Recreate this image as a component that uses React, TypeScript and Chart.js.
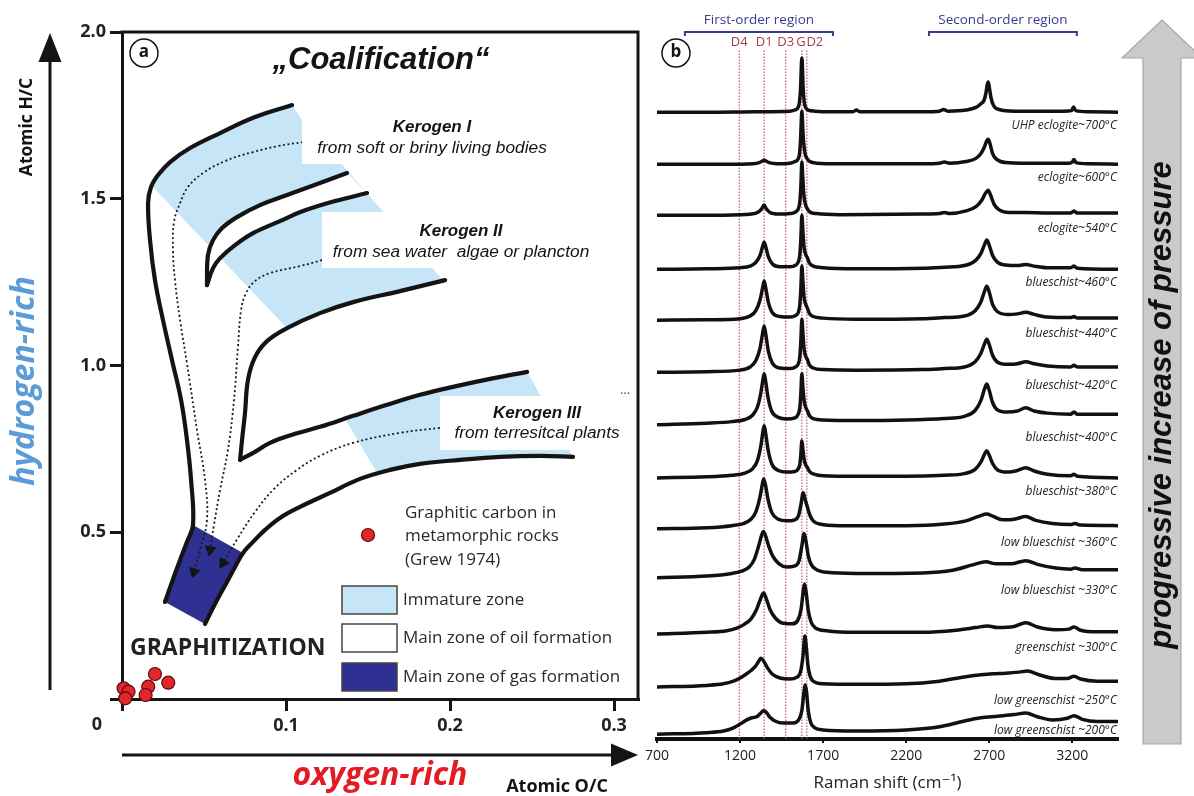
import React, { useEffect, useRef } from 'react';
import { Chart, registerables } from 'chart.js';

Chart.register(...registerables);

// ================= Panel (a): van Krevelen diagram =================
const X_TICKS_A = [0, 0.1, 0.2, 0.3];
const Y_TICKS_A = [0, 0.5, 1.0, 1.5, 2.0];

// outer evolution path of Kerogen I (upper-left boundary) down to graphitization
const OUTER_LEFT = [
  [0.1037, 1.781], [0.0811, 1.745], [0.0598, 1.697], [0.0415, 1.652], [0.0293, 1.61],
  [0.022, 1.571], [0.0177, 1.535], [0.0159, 1.487], [0.0171, 1.376], [0.0201, 1.256],
  [0.025, 1.136], [0.0305, 1.016], [0.036, 0.897], [0.0396, 0.777], [0.0421, 0.657],
  [0.0433, 0.522], [0.0396, 0.471], [0.0354, 0.417], [0.0305, 0.351], [0.0262, 0.291],
];
// outer evolution path of Kerogen III (lower-right boundary)
const OUTER_RIGHT = [
  [0.275, 0.726], [0.2549, 0.729], [0.2305, 0.726], [0.2061, 0.717], [0.1817, 0.705],
  [0.1634, 0.687], [0.1451, 0.66], [0.1268, 0.618], [0.1085, 0.576], [0.0963, 0.543],
  [0.0872, 0.507], [0.0799, 0.471], [0.0738, 0.438], [0.0689, 0.396], [0.064, 0.351],
  [0.0573, 0.291], [0.0506, 0.225],
];
const K1_LOWER = [
  [0.1372, 1.577], [0.1207, 1.547], [0.1006, 1.511], [0.0841, 1.481], [0.0701, 1.445],
  [0.061, 1.412], [0.0555, 1.376], [0.0524, 1.331], [0.0518, 1.241],
];
const K2_UPPER = [
  [0.0518, 1.241], [0.0555, 1.292], [0.0598, 1.322], [0.0689, 1.361], [0.0799, 1.397],
  [0.0963, 1.433], [0.1104, 1.463], [0.1299, 1.493], [0.1494, 1.517],
];
const K2_LOWER = [
  [0.197, 1.256], [0.1695, 1.223], [0.1409, 1.19], [0.1207, 1.157], [0.1006, 1.112],
  [0.0884, 1.073], [0.0811, 1.025], [0.0768, 0.957], [0.075, 0.858], [0.0732, 0.777],
  [0.072, 0.717],
];
const K3_UPPER = [
  [0.072, 0.717], [0.0811, 0.741], [0.0902, 0.768], [0.1055, 0.795], [0.1207, 0.816],
  [0.1409, 0.849], [0.1616, 0.882], [0.1817, 0.912], [0.2018, 0.936], [0.2244, 0.96],
  [0.247, 0.981],
];
const IMMATURE_I_II = [
  [0.0183, 1.538], [0.022, 1.571], [0.0293, 1.61], [0.0415, 1.652], [0.0598, 1.697],
  [0.0811, 1.745], [0.1037, 1.781], [0.1098, 1.736], [0.1372, 1.586], [0.1604, 1.454],
  [0.1939, 1.265], [0.197, 1.256], [0.1695, 1.223], [0.1409, 1.19], [0.1207, 1.157],
  [0.1006, 1.112],
];
const IMMATURE_III = [
  [0.136, 0.84], [0.1409, 0.849], [0.1616, 0.882], [0.1817, 0.912], [0.2018, 0.936],
  [0.2244, 0.96], [0.247, 0.981], [0.2549, 0.912], [0.2646, 0.822], [0.2744, 0.732],
  [0.2549, 0.729], [0.2305, 0.726], [0.2061, 0.717], [0.1817, 0.705], [0.1561, 0.672],
];
const GAS_ZONE = [
  [0.0433, 0.522], [0.0738, 0.438], [0.0689, 0.396], [0.064, 0.351], [0.0573, 0.291],
  [0.0506, 0.225], [0.0262, 0.291], [0.0305, 0.351], [0.0354, 0.417], [0.0396, 0.471],
];
const PATH_I = [
  [0.1104, 1.67], [0.0951, 1.658], [0.0799, 1.64], [0.0628, 1.613], [0.0494, 1.577],
  [0.0402, 1.535], [0.0354, 1.487], [0.0317, 1.43], [0.0311, 1.346], [0.0323, 1.256],
  [0.0354, 1.136], [0.0396, 1.007], [0.0457, 0.807], [0.0506, 0.657], [0.0518, 0.537],
  [0.0476, 0.447], [0.0439, 0.381],
];
const PATH_II = [
  [0.122, 1.316], [0.1085, 1.298], [0.0902, 1.277], [0.0811, 1.253], [0.0756, 1.217],
  [0.0726, 1.166], [0.0707, 1.055], [0.0683, 0.897], [0.0646, 0.747], [0.0598, 0.627],
  [0.0561, 0.522], [0.0537, 0.447],
];
const PATH_III = [
  [0.1939, 0.813], [0.1695, 0.798], [0.1409, 0.768], [0.1207, 0.729], [0.1067, 0.687],
  [0.0933, 0.633], [0.0811, 0.561], [0.0707, 0.483], [0.0616, 0.408],
];
// Graphitic carbon in metamorphic rocks (Grew 1974)
const GREW_1974 = [
  [0.001, 0.032], [0.004, 0.022], [0.002, 0.002], [0.016, 0.037], [0.0144, 0.012],
  [0.0201, 0.075], [0.0282, 0.049],
];

// ================= Panel (b): Raman spectra =================
const X_TICKS_B = [700, 1200, 1700, 2200, 2700, 3200];
const BANDS = ['D4', 'D1', 'D3', 'G', 'D2'];
const BAND_POS = [1195, 1345, 1475, 1572, 1602];
const BAND_LINE_TOP = 13.0;
const FIRST_ORDER = [868, 1759];
const SECOND_ORDER = [2337, 3227];
const SAMPLES = [
  'UHP eclogite~700°C', 'eclogite~600°C', 'eclogite~540°C', 'blueschist~460°C',
  'blueschist~440°C', 'blueschist~420°C', 'blueschist~400°C', 'blueschist~380°C',
  'low blueschist ~360°C', 'low blueschist ~330°C', 'greenschist ~300°C',
  'low greenschist ~250°C', 'low greenschist ~200°C',
];
const OFFSETS = [11.81, 10.83, 9.87, 8.85, 7.89, 6.91, 5.92, 4.92, 3.96, 3.04, 1.98, 0.98, 0.09];

const S1 = [[700,0],[1000,0],[1300,0.01],[1500,0.02],[1530,0.04],[1551,0.1],[1558,0.2],[1565,0.5],[1568,0.8],[1572,1.02],[1576,0.8],[1579,0.5],[1586,0.2],[1593,0.1],[1610,0.04],[1650,0.02],[1750,0.01],[1880,0.01],[1900,0.04],[1920,0.01],[2300,0.01],[2400,0.02],[2425,0.05],[2450,0.02],[2560,0.04],[2620,0.09],[2650,0.16],[2668,0.22],[2680,0.36],[2688,0.52],[2694,0.57],[2700,0.48],[2710,0.28],[2725,0.13],[2760,0.05],[2850,0.02],[3150,0.02],[3195,0.03],[3208,0.1],[3220,0.03],[3300,0.01],[3475,0]];
const S2 = [[700,0],[1100,0],[1280,0.01],[1315,0.03],[1335,0.06],[1345,0.08],[1355,0.06],[1375,0.03],[1420,0.01],[1500,0.02],[1530,0.05],[1550,0.1],[1558,0.2],[1564,0.45],[1568,0.78],[1572,1.0],[1576,0.8],[1581,0.48],[1590,0.22],[1600,0.12],[1620,0.05],[1660,0.02],[1800,0.01],[2300,0.01],[2400,0.02],[2430,0.04],[2460,0.02],[2560,0.05],[2620,0.11],[2650,0.2],[2670,0.32],[2685,0.44],[2694,0.47],[2705,0.38],[2720,0.2],[2745,0.09],[2800,0.03],[2900,0.02],[3180,0.02],[3200,0.04],[3210,0.09],[3222,0.03],[3300,0.01],[3475,0]];
const S3 = [[700,0],[1100,0],[1270,0.02],[1310,0.06],[1330,0.12],[1345,0.19],[1358,0.12],[1380,0.05],[1430,0.02],[1500,0.03],[1535,0.06],[1552,0.13],[1560,0.26],[1566,0.55],[1572,1.0],[1577,0.75],[1583,0.42],[1592,0.22],[1605,0.12],[1620,0.06],[1660,0.03],[1800,0.01],[2300,0.02],[2400,0.03],[2430,0.05],[2460,0.03],[2560,0.08],[2620,0.16],[2655,0.28],[2675,0.4],[2693,0.47],[2710,0.36],[2730,0.2],[2760,0.1],[2820,0.05],[2920,0.05],[3050,0.04],[3190,0.04],[3210,0.08],[3228,0.04],[3475,0.04]];
const S4 = [[700,0],[1000,0.01],[1200,0.03],[1260,0.06],[1295,0.13],[1320,0.26],[1335,0.42],[1345,0.51],[1355,0.42],[1370,0.24],[1395,0.1],[1440,0.05],[1500,0.05],[1535,0.08],[1552,0.15],[1560,0.28],[1566,0.58],[1572,1.02],[1578,0.74],[1585,0.42],[1595,0.28],[1605,0.22],[1617,0.12],[1640,0.06],[1700,0.03],[1900,0.01],[2300,0.02],[2430,0.04],[2550,0.07],[2615,0.16],[2650,0.3],[2672,0.47],[2685,0.55],[2698,0.47],[2720,0.26],[2750,0.13],[2800,0.08],[2870,0.07],[2920,0.09],[2970,0.06],[3050,0.03],[3190,0.03],[3210,0.06],[3230,0.02],[3475,0]];
const S5 = [[700,0],[1000,0.01],[1200,0.03],[1260,0.08],[1295,0.18],[1320,0.38],[1335,0.6],[1345,0.74],[1355,0.6],[1370,0.34],[1395,0.14],[1440,0.07],[1500,0.06],[1535,0.09],[1552,0.16],[1560,0.3],[1566,0.6],[1572,1.02],[1578,0.75],[1585,0.44],[1595,0.3],[1605,0.23],[1617,0.13],[1640,0.07],[1700,0.04],[1900,0.02],[2300,0.03],[2430,0.05],[2550,0.08],[2615,0.18],[2650,0.35],[2672,0.55],[2685,0.64],[2698,0.55],[2720,0.3],[2750,0.16],[2810,0.11],[2870,0.12],[2920,0.15],[2970,0.11],[3050,0.06],[3190,0.05],[3210,0.07],[3230,0.04],[3475,0.04]];
const S6 = [[700,0],[1000,0.01],[1200,0.04],[1260,0.1],[1295,0.22],[1320,0.45],[1335,0.72],[1345,0.87],[1355,0.71],[1370,0.4],[1395,0.17],[1440,0.08],[1500,0.07],[1535,0.1],[1552,0.17],[1560,0.3],[1566,0.6],[1572,1.0],[1578,0.75],[1585,0.45],[1595,0.3],[1605,0.24],[1617,0.14],[1640,0.08],[1700,0.05],[1900,0.04],[2300,0.05],[2430,0.07],[2550,0.1],[2615,0.2],[2650,0.36],[2672,0.54],[2685,0.62],[2698,0.54],[2720,0.32],[2750,0.19],[2810,0.15],[2870,0.16],[2920,0.2],[2970,0.16],[3050,0.12],[3190,0.1],[3210,0.13],[3230,0.1],[3475,0.1]];
const S7 = [[700,0],[1000,0.03],[1150,0.06],[1230,0.1],[1275,0.18],[1305,0.34],[1325,0.6],[1337,0.84],[1345,0.96],[1354,0.82],[1368,0.52],[1390,0.26],[1430,0.14],[1480,0.11],[1530,0.13],[1550,0.2],[1560,0.33],[1566,0.6],[1572,0.96],[1578,0.72],[1586,0.45],[1596,0.32],[1606,0.26],[1618,0.17],[1645,0.11],[1700,0.09],[1900,0.08],[2200,0.09],[2430,0.12],[2550,0.16],[2615,0.27],[2650,0.46],[2672,0.68],[2685,0.77],[2698,0.67],[2720,0.42],[2750,0.28],[2810,0.24],[2870,0.26],[2920,0.32],[2970,0.26],[3050,0.22],[3190,0.2],[3210,0.24],[3230,0.2],[3475,0.2]];
const S8 = [[700,0],[1000,0.02],[1150,0.05],[1230,0.09],[1275,0.17],[1305,0.33],[1325,0.6],[1337,0.86],[1345,0.98],[1354,0.84],[1368,0.54],[1390,0.27],[1430,0.14],[1480,0.11],[1530,0.12],[1550,0.17],[1560,0.26],[1566,0.45],[1572,0.7],[1578,0.54],[1586,0.34],[1596,0.24],[1606,0.19],[1618,0.12],[1645,0.07],[1700,0.04],[1900,0.03],[2200,0.03],[2430,0.05],[2550,0.08],[2615,0.16],[2650,0.3],[2672,0.45],[2685,0.51],[2698,0.44],[2720,0.27],[2750,0.15],[2810,0.11],[2870,0.14],[2920,0.19],[2970,0.13],[3050,0.07],[3190,0.04],[3210,0.07],[3230,0.03],[3475,0]];
const S9 = [[700,0],[1000,0.02],[1150,0.06],[1220,0.1],[1265,0.18],[1295,0.32],[1320,0.6],[1334,0.84],[1342,0.94],[1352,0.84],[1368,0.56],[1392,0.3],[1430,0.18],[1480,0.15],[1530,0.17],[1552,0.25],[1566,0.45],[1580,0.68],[1592,0.55],[1606,0.4],[1620,0.26],[1640,0.15],[1680,0.09],[1800,0.06],[2200,0.06],[2430,0.09],[2560,0.15],[2640,0.24],[2685,0.28],[2720,0.24],[2780,0.17],[2850,0.18],[2920,0.23],[2980,0.16],[3080,0.1],[3190,0.08],[3215,0.1],[3250,0.07],[3475,0.06]];
const S10 = [[700,0],[1000,0.03],[1150,0.08],[1215,0.13],[1255,0.2],[1285,0.34],[1312,0.6],[1330,0.8],[1340,0.87],[1352,0.8],[1372,0.6],[1398,0.4],[1435,0.26],[1480,0.2],[1530,0.22],[1555,0.32],[1572,0.6],[1585,0.83],[1596,0.7],[1610,0.42],[1628,0.25],[1655,0.16],[1720,0.1],[1900,0.08],[2300,0.09],[2480,0.14],[2600,0.24],[2680,0.3],[2740,0.26],[2830,0.26],[2920,0.32],[2990,0.25],[3100,0.18],[3190,0.16],[3215,0.18],[3260,0.15],[3475,0.15]];
const S11 = [[700,0],[1000,0.03],[1120,0.06],[1180,0.11],[1225,0.18],[1265,0.28],[1295,0.43],[1320,0.63],[1335,0.75],[1342,0.77],[1356,0.68],[1380,0.46],[1412,0.3],[1460,0.2],[1515,0.19],[1548,0.26],[1568,0.48],[1580,0.8],[1588,0.94],[1597,0.8],[1610,0.45],[1628,0.22],[1655,0.11],[1720,0.06],[1900,0.03],[2300,0.03],[2500,0.07],[2620,0.12],[2690,0.15],[2750,0.12],[2850,0.14],[2920,0.21],[2990,0.13],[3100,0.08],[3180,0.09],[3210,0.13],[3250,0.07],[3350,0.04],[3475,0.04]];
const S12 = [[700,0],[1000,0.03],[1100,0.06],[1160,0.11],[1200,0.17],[1240,0.25],[1270,0.32],[1295,0.4],[1315,0.5],[1325,0.54],[1340,0.5],[1365,0.36],[1395,0.24],[1440,0.17],[1500,0.15],[1540,0.18],[1565,0.3],[1580,0.62],[1590,0.96],[1598,0.78],[1608,0.42],[1622,0.2],[1645,0.1],[1700,0.06],[1900,0.05],[2200,0.06],[2400,0.11],[2550,0.19],[2650,0.23],[2720,0.25],[2800,0.26],[2880,0.28],[2930,0.3],[3000,0.23],[3100,0.16],[3170,0.16],[3210,0.2],[3250,0.15],[3350,0.11],[3475,0.11]];
const S13 = [[700,0],[1000,0.03],[1100,0.06],[1160,0.12],[1205,0.2],[1240,0.27],[1270,0.31],[1300,0.33],[1325,0.4],[1340,0.44],[1355,0.42],[1380,0.32],[1410,0.25],[1460,0.21],[1515,0.21],[1550,0.26],[1572,0.45],[1585,0.8],[1592,0.93],[1600,0.8],[1610,0.45],[1625,0.22],[1650,0.12],[1700,0.08],[1900,0.06],[2200,0.08],[2400,0.14],[2550,0.25],[2650,0.31],[2750,0.34],[2850,0.37],[2920,0.4],[2990,0.33],[3080,0.27],[3170,0.3],[3210,0.35],[3260,0.28],[3350,0.24],[3475,0.24]];
const SPECTRA = [S1, S2, S3, S4, S5, S6, S7, S8, S9, S10, S11, S12, S13];

// ================= helpers =================
const toXY = (arr: number[][]) => arr.map(([x, y]) => ({ x, y }));
const INK = '#141414';
const SANS = '"Open Sans", "DejaVu Sans", sans-serif';
const ARIAL = '"Liberation Sans", Arial, sans-serif';

function txt(ctx: any, s: string, x: number, y: number, font: string, color = INK, align = 'left', baseline = 'middle') {
  ctx.font = font;
  ctx.fillStyle = color;
  ctx.textAlign = align;
  ctx.textBaseline = baseline;
  ctx.fillText(s, x, y);
}
function vtxt(ctx: any, s: string, x: number, y: number, font: string, color = INK) {
  ctx.save();
  ctx.translate(x, y);
  ctx.rotate(-Math.PI / 2);
  txt(ctx, s, 0, 0, font, color, 'center', 'middle');
  ctx.restore();
}
function poly(ctx: any, pts: number[][], fill: string, stroke?: string, lw = 1) {
  ctx.beginPath();
  pts.forEach(([x, y], i) => (i ? ctx.lineTo(x, y) : ctx.moveTo(x, y)));
  ctx.closePath();
  ctx.fillStyle = fill;
  ctx.fill();
  if (stroke) { ctx.strokeStyle = stroke; ctx.lineWidth = lw; ctx.stroke(); }
}

const arrowRotation = (c: any) => {
  const d = c.dataset.data;
  const i = c.dataIndex;
  if (i < 1) return 0;
  const xs = c.chart.scales.x, ys = c.chart.scales.y;
  const dx = xs.getPixelForValue(d[i].x) - xs.getPixelForValue(d[i - 1].x);
  const dy = ys.getPixelForValue(d[i].y) - ys.getPixelForValue(d[i - 1].y);
  return (Math.atan2(dx, -dy) * 180) / Math.PI;
};

const IMMATURE_COLOR = '#c6e6f8';
const GAS_COLOR = '#2e3192';

const fillDs = (data: number[][], color: string, order: number) => ({
  data: toXY(data), fill: 'shape', backgroundColor: color, borderColor: 'rgba(0,0,0,0)',
  borderWidth: 0, pointRadius: 0, tension: 0, order,
});
const lineDs = (data: number[][], order: number) => ({
  data: toXY(data), fill: false, borderColor: INK, borderWidth: 4.2, pointRadius: 0,
  tension: 0.4, borderCapStyle: 'round', borderJoinStyle: 'round', order, clip: 6,
});
const pathDs = (data: number[][], order: number) => ({
  data: toXY(data), fill: false, borderColor: '#1a1a1a', borderWidth: 1.8, borderDash: [2, 2.6],
  tension: 0.4, pointStyle: 'triangle', pointBackgroundColor: INK, pointBorderColor: INK,
  pointBorderWidth: 1, pointRadius: (c: any) => (c.dataIndex === data.length - 1 ? 6 : 0),
  rotation: arrowRotation, order,
});

const panelAPlugin = {
  id: 'panelA',
  afterDatasetsDraw(chart: any) {
    const ctx = chart.ctx;
    const { left, right, top, bottom } = chart.chartArea;
    ctx.save();
    // white label boxes
    ctx.fillStyle = '#fff';
    ctx.fillRect(302, 116, 258, 48);
    ctx.fillRect(322, 212, 270, 56);
    ctx.fillRect(440, 396, 185, 54);
    // frame
    ctx.strokeStyle = INK;
    ctx.lineWidth = 3;
    ctx.beginPath();
    ctx.moveTo(left - 1.5, top);
    ctx.lineTo(right, top);
    ctx.lineTo(right, bottom + 1.5);
    ctx.stroke();
    // title and panel letter
    txt(ctx, '\u201ECoalification\u201C', 381, 69, `italic bold 31px ${ARIAL}`, INK, 'center', 'alphabetic');
    ctx.beginPath(); ctx.arc(144, 53, 14, 0, Math.PI * 2); ctx.fillStyle = '#fff'; ctx.fill();
    ctx.lineWidth = 1.5; ctx.strokeStyle = INK; ctx.stroke();
    txt(ctx, 'a', 144, 52, `bold 17px ${SANS}`, INK, 'center');
    // kerogen labels
    const kb = `italic bold 17px ${ARIAL}`, ki = `italic 17.3px ${ARIAL}`;
    txt(ctx, 'Kerogen I', 432, 127, kb, INK, 'center');
    txt(ctx, 'from soft or briny living bodies', 432, 148, ki, INK, 'center');
    txt(ctx, 'Kerogen II', 461, 231, kb, INK, 'center');
    txt(ctx, 'from sea water  algae or plancton', 461, 252, ki, INK, 'center');
    txt(ctx, 'Kerogen III', 537, 413, kb, INK, 'center');
    txt(ctx, 'from terresitcal plants', 537, 433, ki, INK, 'center');
    txt(ctx, '...', 625, 390, `13px ${SANS}`, '#555', 'center');
    // GRAPHITIZATION
    txt(ctx, 'GRAPHITIZATION', 130, 648, `bold 23px ${SANS}`, '#222');
    // legend
    const lf = `17px ${SANS}`;
    ctx.beginPath(); ctx.arc(368, 535, 6.5, 0, Math.PI * 2);
    ctx.fillStyle = '#e3262b'; ctx.fill(); ctx.lineWidth = 1.2; ctx.strokeStyle = '#5a0c0c'; ctx.stroke();
    txt(ctx, 'Graphitic carbon in', 405, 513, lf, '#2a2a2a');
    txt(ctx, 'metamorphic rocks', 405, 536, lf, '#2a2a2a');
    txt(ctx, '(Grew 1974)', 405, 560, lf, '#2a2a2a');
    const items = [
      [IMMATURE_COLOR, 'Immature zone', 586],
      ['#ffffff', 'Main zone of oil formation', 624],
      [GAS_COLOR, 'Main zone of gas formation', 663],
    ];
    items.forEach(([c, label, y]: any) => {
      ctx.fillStyle = c; ctx.fillRect(342, y, 55, 28);
      ctx.lineWidth = 1.5; ctx.strokeStyle = '#444'; ctx.strokeRect(342, y, 55, 28);
      txt(ctx, label, 403, y + 14, lf, '#2a2a2a');
    });
    // origin label
    txt(ctx, '0', 97, 725, `bold 18px ${SANS}`, '#222', 'center');
    // side arrows
    ctx.strokeStyle = INK; ctx.lineWidth = 3;
    ctx.beginPath(); ctx.moveTo(50, 690); ctx.lineTo(50, 58); ctx.stroke();
    poly(ctx, [[50, 33], [38.5, 62], [61.5, 62]], INK);
    ctx.beginPath(); ctx.moveTo(122, 755); ctx.lineTo(615, 755); ctx.stroke();
    poly(ctx, [[638, 755], [611, 743.5], [611, 766.5]], INK);
    vtxt(ctx, 'Atomic H/C', 27, 127, `bold 17.5px ${SANS}`, INK);
    vtxt(ctx, 'hydrogen-rich', 25, 381, `italic bold 32px ${SANS}`, '#5a9bd8');
    txt(ctx, 'oxygen-rich', 380, 776, `italic bold 32px ${SANS}`, '#e31b23', 'center');
    txt(ctx, 'Atomic O/C', 557, 787, `bold 18px ${SANS}`, INK, 'center');
    ctx.restore();
  },
};

const panelBPlugin = {
  id: 'panelB',
  afterDraw(chart: any) {
    const ctx = chart.ctx;
    const xs = chart.scales.x, ys = chart.scales.y;
    ctx.save();
    // region brackets
    const regions: any[] = [['First-order region', FIRST_ORDER], ['Second-order region', SECOND_ORDER]];
    regions.forEach(([label, [a, b]]) => {
      const x1 = xs.getPixelForValue(a), x2 = xs.getPixelForValue(b);
      ctx.strokeStyle = '#3b3b8c'; ctx.lineWidth = 2;
      ctx.beginPath(); ctx.moveTo(x1, 36); ctx.lineTo(x1, 32); ctx.lineTo(x2, 32); ctx.lineTo(x2, 36); ctx.stroke();
      txt(ctx, label, (x1 + x2) / 2, 20, `13.5px ${SANS}`, '#3b3b8c', 'center');
    });
    // band labels
    const dx = [0, 0, 0, -1, 8];
    BANDS.forEach((b, i) => {
      txt(ctx, b, xs.getPixelForValue(BAND_POS[i]) + dx[i], 42, `13px ${SANS}`, '#a8404c', 'center');
    });
    // panel letter
    ctx.beginPath(); ctx.arc(36, 53, 14, 0, Math.PI * 2); ctx.fillStyle = '#fff'; ctx.fill();
    ctx.lineWidth = 1.5; ctx.strokeStyle = INK; ctx.stroke();
    txt(ctx, 'b', 36, 52, `bold 17px ${SANS}`, INK, 'center');
    // sample labels
    SAMPLES.forEach((s, i) => {
      const y = ys.getPixelForValue(Math.max(OFFSETS[i] - 0.25, 0.15));
      txt(ctx, s, chart.chartArea.right - 1, y, `italic 12px ${SANS}`, '#222', 'right');
    });
    // pressure arrow
    poly(ctx, [[503, 58], [482, 58], [522, 20], [562, 58], [541, 58], [541, 744], [503, 744]], '#cacaca', '#a8a8a8', 1.2);
    vtxt(ctx, 'progressive increase of pressure', 522, 405, `italic bold 31px ${ARIAL}`, '#111');
    ctx.restore();
  },
};

export default function App() {
  const refA = useRef<HTMLCanvasElement>(null);
  const refB = useRef<HTMLCanvasElement>(null);

  useEffect(() => {
    const chartA = new Chart(refA.current as any, {
      type: 'line',
      data: {
        datasets: [
          fillDs(IMMATURE_I_II, IMMATURE_COLOR, 20),
          fillDs(IMMATURE_III, IMMATURE_COLOR, 19),
          fillDs([...K1_LOWER, ...K2_UPPER.slice(1)], '#ffffff', 18),
          fillDs(GAS_ZONE, GAS_COLOR, 17),
          lineDs(OUTER_LEFT, 10),
          lineDs(OUTER_RIGHT, 10),
          lineDs(K1_LOWER, 10),
          lineDs(K2_UPPER, 10),
          lineDs(K2_LOWER, 10),
          lineDs(K3_UPPER, 10),
          pathDs(PATH_I, 5),
          pathDs(PATH_II, 5),
          pathDs(PATH_III, 5),
          {
            data: toXY(GREW_1974), showLine: false, pointRadius: 6.5, pointBackgroundColor: '#e3262b',
            pointBorderColor: '#5a0c0c', pointBorderWidth: 1.2, clip: false, order: 1,
          },
        ] as any,
      },
      options: {
        responsive: false,
        animation: false,
        events: [],
        layout: { padding: { left: 0, right: 12, top: 32, bottom: 0 } },
        plugins: { legend: { display: false }, tooltip: { enabled: false } },
        scales: {
          x: {
            type: 'linear', min: 0, max: 0.3146,
            afterBuildTicks: (s: any) => { s.ticks = X_TICKS_A.map((v) => ({ value: v })); },
            afterFit: (s: any) => { s.height = 97; },
            grid: { drawOnChartArea: false, drawTicks: true, tickLength: 12, color: INK, lineWidth: 3 },
            border: { display: true, color: INK, width: 3 },
            ticks: {
              callback: (v: any) => (v === 0 ? '' : Number(v).toFixed(1)),
              font: { family: SANS, size: 18, weight: 'bold' }, color: '#222', padding: 4,
              maxRotation: 0, autoSkip: false,
            },
          },
          y: {
            type: 'linear', min: 0, max: 2.0,
            afterBuildTicks: (s: any) => { s.ticks = Y_TICKS_A.map((v) => ({ value: v })); },
            afterFit: (s: any) => { s.width = 122; },
            grid: { drawOnChartArea: false, drawTicks: true, tickLength: 12, color: INK, lineWidth: 3 },
            border: { display: true, color: INK, width: 3 },
            ticks: {
              callback: (v: any) => (v === 0 ? '' : Number(v).toFixed(1)),
              font: { family: SANS, size: 18, weight: 'bold' }, color: '#222', padding: 4,
              autoSkip: false,
            },
          },
        },
      } as any,
      plugins: [panelAPlugin],
    });

    const chartB = new Chart(refB.current as any, {
      type: 'line',
      data: {
        datasets: [
          ...BAND_POS.map((p) => ({
            data: [{ x: p, y: 0 }, { x: p, y: BAND_LINE_TOP }], borderColor: '#b5505b',
            borderWidth: 1.1, borderDash: [1.5, 1.5], pointRadius: 0, order: 50,
          })),
          ...SPECTRA.map((s, i) => ({
            data: s.map(([x, v]) => ({ x, y: v + OFFSETS[i] })), borderColor: '#111',
            borderWidth: 3.5, pointRadius: 0, cubicInterpolationMode: 'monotone', order: i,
          })),
        ] as any,
      },
      options: {
        responsive: false,
        animation: false,
        events: [],
        layout: { padding: { left: 17, right: 76, top: 22.5, bottom: 0 } },
        plugins: { legend: { display: false }, tooltip: { enabled: false } },
        scales: {
          x: {
            type: 'linear', min: 700, max: 3475,
            afterBuildTicks: (s: any) => { s.ticks = X_TICKS_B.map((v) => ({ value: v })); },
            afterFit: (s: any) => { s.height = 57; },
            grid: { drawOnChartArea: false, drawTicks: true, tickLength: 4, color: '#111', lineWidth: 2 },
            border: { display: true, color: '#111', width: 4 },
            ticks: {
              font: { family: SANS, size: 14 }, color: '#222', padding: 5, maxRotation: 0, autoSkip: false,
              callback: (v: any) => String(v),
            },
            title: {
              display: true, text: 'Raman shift (cm\u207B\u00B9)', font: { family: SANS, size: 17 },
              color: '#222', padding: { top: 0, bottom: 3 },
            },
          },
          y: { type: 'linear', min: 0, max: 13.5, display: false },
        },
      } as any,
      plugins: [panelBPlugin],
    });

    return () => {
      chartA.destroy();
      chartB.destroy();
    };
  }, []);

  return (
    <div style={{ position: 'fixed', left: 0, top: 0, width: 1194, height: 796, background: '#fff', overflow: 'hidden' }}>
      <canvas ref={refA} width={650} height={796} style={{ position: 'absolute', left: 0, top: 0, width: 650, height: 796 }} />
      <canvas ref={refB} width={554} height={796} style={{ position: 'absolute', left: 640, top: 0, width: 554, height: 796 }} />
    </div>
  );
}
